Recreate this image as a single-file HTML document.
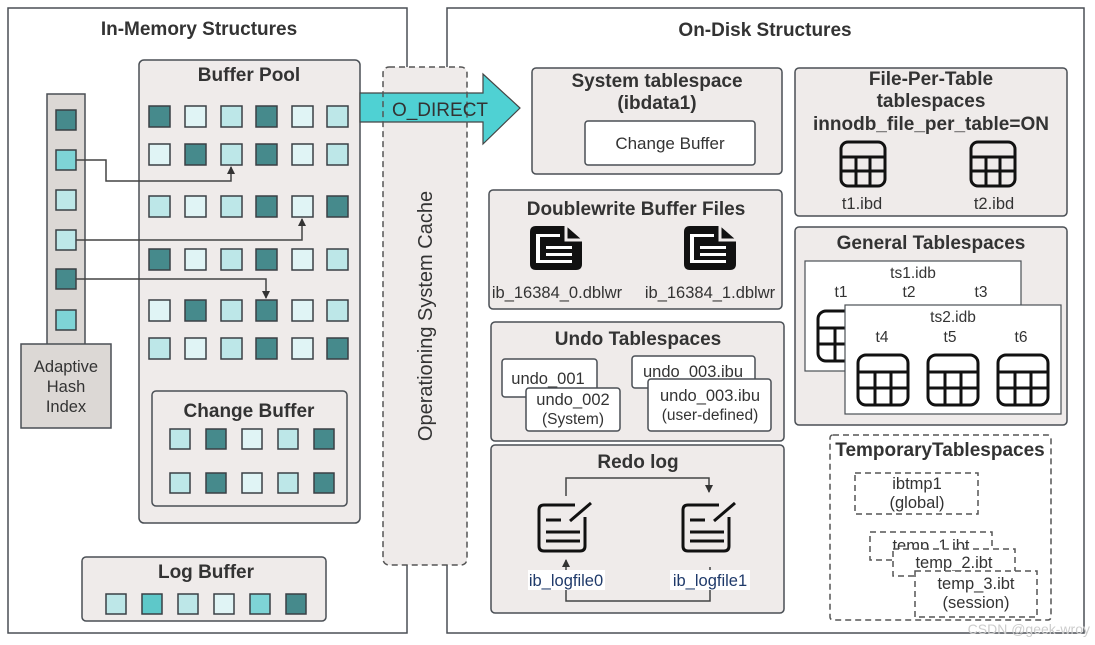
<!DOCTYPE html>
<html><head><meta charset="utf-8"><style>
html,body{margin:0;padding:0;background:#fff}
svg{display:block}
text{font-family:"Liberation Sans","DejaVu Sans",sans-serif;fill:#333}
.t{font-weight:bold;font-size:19px;text-anchor:middle}
.n{font-size:15.5px;text-anchor:middle}
.bx{fill:#efebea;stroke:#4a4f55;stroke-width:1.5}
.wb{fill:#fff;stroke:#4a4f55;stroke-width:1.5}
.D{fill:#468a8c;stroke:#3a4045;stroke-width:1.5}
.M{fill:#7ed4d6;stroke:#3a4045;stroke-width:1.5}
.L{fill:#bde7e8;stroke:#3a4045;stroke-width:1.5}
.V{fill:#e0f4f5;stroke:#3a4045;stroke-width:1.5}
.ln{fill:none;stroke:#444;stroke-width:1.5}
.ic{fill:none;stroke:#111;stroke-width:3}
.ds{fill:none;stroke:#555;stroke-width:1.5;stroke-dasharray:6,4}
</style></head><body>
<svg width="1095" height="645" viewBox="0 0 1095 645" xmlns="http://www.w3.org/2000/svg">
<defs>
<marker id="ar" markerWidth="8" markerHeight="8" refX="7" refY="4" orient="auto" markerUnits="userSpaceOnUse"><path d="M0,0 L8,4 L0,8 z" fill="#333"/></marker>
<g id="tbl"><rect x="0" y="0" width="44" height="44" rx="7" class="ic"/><line x1="0" y1="15" x2="44" y2="15" class="ic"/><line x1="0" y1="29" x2="44" y2="29" class="ic"/><line x1="15" y1="15" x2="15" y2="44" class="ic"/><line x1="29" y1="15" x2="29" y2="44" class="ic"/></g>
<g id="tbl2"><rect x="0" y="0" width="50" height="50" rx="8" class="ic"/><line x1="0" y1="17" x2="50" y2="17" class="ic"/><line x1="0" y1="33" x2="50" y2="33" class="ic"/><line x1="17" y1="17" x2="17" y2="50" class="ic"/><line x1="33" y1="17" x2="33" y2="50" class="ic"/></g>
<g id="doc"><path d="M6,0 H36 L52,14 V38 Q52,44 46,44 H6 Q0,44 0,38 V6 Q0,0 6,0 Z" fill="#111"/><path d="M36,0 V14 H52" fill="none" stroke="#efebea" stroke-width="3"/><rect x="6" y="8" width="24" height="3" fill="#fff"/><rect x="6" y="8" width="4" height="28" fill="#fff"/><rect x="16" y="20" width="26" height="3" fill="#fff"/><rect x="16" y="27" width="26" height="3" fill="#fff"/><rect x="6" y="34" width="36" height="3" fill="#fff"/></g>
<g id="note"><path d="M38,2 H7 Q2,2 2,7 V43 Q2,48 7,48 H43 Q48,48 48,43 V14" class="ic"/><line x1="33" y1="18" x2="54" y2="0" class="ic"/><line x1="9" y1="17" x2="24" y2="17" class="ic"/><line x1="9" y1="29" x2="43" y2="29" class="ic"/><line x1="9" y1="38" x2="43" y2="38" class="ic"/></g>
</defs>

<rect x="8" y="8" width="399" height="625" fill="#fff" stroke="#4a4f55" stroke-width="1.5"/>
<text x="199" y="35" class="t">In-Memory Structures</text>
<rect x="447" y="8" width="637" height="625" fill="#fff" stroke="#4a4f55" stroke-width="1.5"/>
<text x="765" y="36" class="t">On-Disk Structures</text>

<rect x="139" y="60" width="221" height="463" rx="5" class="bx"/>
<text x="249" y="81" class="t">Buffer Pool</text>
<g>
<rect x="149" y="106" width="21" height="21" class="D"/><rect x="185" y="106" width="21" height="21" class="V"/><rect x="221" y="106" width="21" height="21" class="L"/><rect x="256" y="106" width="21" height="21" class="D"/><rect x="292" y="106" width="21" height="21" class="V"/><rect x="327" y="106" width="21" height="21" class="L"/>
<rect x="149" y="144" width="21" height="21" class="V"/><rect x="185" y="144" width="21" height="21" class="D"/><rect x="221" y="144" width="21" height="21" class="L"/><rect x="256" y="144" width="21" height="21" class="D"/><rect x="292" y="144" width="21" height="21" class="V"/><rect x="327" y="144" width="21" height="21" class="L"/>
<rect x="149" y="196" width="21" height="21" class="L"/><rect x="185" y="196" width="21" height="21" class="V"/><rect x="221" y="196" width="21" height="21" class="L"/><rect x="256" y="196" width="21" height="21" class="D"/><rect x="292" y="196" width="21" height="21" class="V"/><rect x="327" y="196" width="21" height="21" class="D"/>
<rect x="149" y="249" width="21" height="21" class="D"/><rect x="185" y="249" width="21" height="21" class="V"/><rect x="221" y="249" width="21" height="21" class="L"/><rect x="256" y="249" width="21" height="21" class="D"/><rect x="292" y="249" width="21" height="21" class="V"/><rect x="327" y="249" width="21" height="21" class="L"/>
<rect x="149" y="300" width="21" height="21" class="V"/><rect x="185" y="300" width="21" height="21" class="D"/><rect x="221" y="300" width="21" height="21" class="L"/><rect x="256" y="300" width="21" height="21" class="D"/><rect x="292" y="300" width="21" height="21" class="V"/><rect x="327" y="300" width="21" height="21" class="L"/>
<rect x="149" y="338" width="21" height="21" class="L"/><rect x="185" y="338" width="21" height="21" class="V"/><rect x="221" y="338" width="21" height="21" class="L"/><rect x="256" y="338" width="21" height="21" class="D"/><rect x="292" y="338" width="21" height="21" class="V"/><rect x="327" y="338" width="21" height="21" class="D"/>
</g>
<rect x="152" y="391" width="195" height="115" rx="4" class="bx"/>
<text x="249" y="417" class="t">Change Buffer</text>
<rect x="170" y="429" width="20" height="20" class="L"/><rect x="206" y="429" width="20" height="20" class="D"/><rect x="242" y="429" width="20" height="20" class="V"/><rect x="278" y="429" width="20" height="20" class="L"/><rect x="314" y="429" width="20" height="20" class="D"/>
<rect x="170" y="473" width="20" height="20" class="L"/><rect x="206" y="473" width="20" height="20" class="D"/><rect x="242" y="473" width="20" height="20" class="V"/><rect x="278" y="473" width="20" height="20" class="L"/><rect x="314" y="473" width="20" height="20" class="D"/>

<rect x="47" y="94" width="38" height="252" fill="#dcd8d5" stroke="#4a4f55" stroke-width="1.5"/>
<rect x="56" y="110" width="20" height="20" class="D"/>
<rect x="56" y="150" width="20" height="20" class="M"/>
<rect x="56" y="190" width="20" height="20" class="L"/>
<rect x="56" y="230" width="20" height="20" class="L"/>
<rect x="56" y="269" width="20" height="20" class="D"/>
<rect x="56" y="310" width="20" height="20" class="M"/>
<rect x="21" y="344" width="90" height="84" fill="#dcd8d5" stroke="#4a4f55" stroke-width="1.5"/>
<text x="66" y="372" class="n" style="font-size:16.5px">Adaptive</text>
<text x="66" y="392" class="n" style="font-size:16.5px">Hash</text>
<text x="66" y="412" class="n" style="font-size:16.5px">Index</text>
<path d="M76,160 H106 V181 H231 V167" class="ln" marker-end="url(#ar)"/>
<path d="M76,240 H302 V219" class="ln" marker-end="url(#ar)"/>
<path d="M76,279 H266 V298" class="ln" marker-end="url(#ar)"/>

<rect x="82" y="557" width="244" height="64" rx="4" class="bx"/>
<text x="206" y="578" class="t">Log Buffer</text>
<rect x="106" y="594" width="20" height="20" class="L"/><rect x="142" y="594" width="20" height="20" fill="#5ec8c9" stroke="#3a4045" stroke-width="1.5"/><rect x="178" y="594" width="20" height="20" class="L"/><rect x="214" y="594" width="20" height="20" class="V"/><rect x="250" y="594" width="20" height="20" class="M"/><rect x="286" y="594" width="20" height="20" class="D"/>

<rect x="383" y="67" width="84" height="498" rx="6" fill="#efebea"/>
<path d="M360,93 H483 V74 L520,108 L483,144 V122 H360 Z" fill="#4fd1d3" stroke="#444" stroke-width="1.2"/>
<rect x="383" y="67" width="84" height="498" rx="6" class="ds"/>
<text x="440" y="116" class="n" style="font-size:19px">O_DIRECT</text>
<text transform="translate(432,316) rotate(-90)" class="n" style="font-size:20px">Operationing System Cache</text>

<rect x="532" y="68" width="250" height="106" rx="4" class="bx"/>
<text x="657" y="87" class="t">System tablespace</text>
<text x="657" y="109" class="t">(ibdata1)</text>
<rect x="585" y="121" width="170" height="44" rx="3" class="wb"/>
<text x="670" y="149" class="n" style="font-size:17px">Change Buffer</text>

<rect x="489" y="190" width="293" height="119" rx="4" class="bx"/>
<text x="636" y="215" class="t">Doublewrite Buffer Files</text>
<use href="#doc" x="530" y="226"/>
<use href="#doc" x="684" y="226"/>
<text x="557" y="298" class="n" style="font-size:16.5px">ib_16384_0.dblwr</text>
<text x="710" y="298" class="n" style="font-size:16.5px">ib_16384_1.dblwr</text>

<rect x="491" y="322" width="293" height="119" rx="4" class="bx"/>
<text x="638" y="345" class="t">Undo Tablespaces</text>
<rect x="502" y="359" width="95" height="38" rx="3" class="wb"/>
<text x="548" y="384" class="n" style="font-size:16.5px">undo_001</text>
<rect x="526" y="388" width="94" height="43" rx="3" class="wb"/>
<text x="573" y="405" class="n" style="font-size:16.5px">undo_002</text>
<text x="573" y="424" class="n" style="font-size:15.5px">(System)</text>
<rect x="632" y="356" width="123" height="32" rx="3" class="wb"/>
<text x="693" y="377" class="n" style="font-size:16.5px">undo_003.ibu</text>
<rect x="648" y="379" width="123" height="52" rx="3" class="wb"/>
<text x="710" y="401" class="n" style="font-size:16.5px">undo_003.ibu</text>
<text x="710" y="420" class="n" style="font-size:15.5px">(user-defined)</text>

<rect x="491" y="445" width="293" height="168" rx="4" class="bx"/>
<text x="638" y="468" class="t">Redo log</text>
<path d="M566,496 V478 H709 V492" class="ln" marker-end="url(#ar)"/>
<path d="M710,567 V601 H566 V560" class="ln" marker-end="url(#ar)"/>
<use href="#note" x="537" y="503"/>
<use href="#note" x="681" y="503"/>
<rect x="528" y="570" width="77" height="20" fill="#fff"/>
<rect x="670" y="570" width="80" height="20" fill="#fff"/>
<text x="566" y="586" class="n" style="font-size:16.5px;fill:#1f3a6a">ib_logfile0</text>
<text x="710" y="586" class="n" style="font-size:16.5px;fill:#1f3a6a">ib_logfile1</text>

<rect x="795" y="68" width="272" height="148" rx="4" class="bx"/>
<text x="931" y="85" class="t">File-Per-Table</text>
<text x="931" y="107" class="t">tablespaces</text>
<text x="931" y="130" class="t">innodb_file_per_table=ON</text>
<use href="#tbl" x="841" y="142"/>
<use href="#tbl" x="971" y="142"/>
<text x="862" y="209" class="n" style="font-size:16.5px">t1.ibd</text>
<text x="994" y="209" class="n" style="font-size:16.5px">t2.ibd</text>

<rect x="795" y="227" width="272" height="198" rx="4" class="bx"/>
<text x="931" y="249" class="t">General Tablespaces</text>
<rect x="805" y="261" width="216" height="110" class="wb" style="stroke-width:1.2"/>
<text x="913" y="278" class="n">ts1.idb</text>
<text x="841" y="297" class="n">t1</text><text x="909" y="297" class="n">t2</text><text x="981" y="297" class="n">t3</text>
<use href="#tbl2" x="818" y="311"/>
<rect x="845" y="305" width="216" height="109" class="wb" style="stroke-width:1.2"/>
<text x="953" y="322" class="n">ts2.idb</text>
<text x="882" y="342" class="n">t4</text><text x="950" y="342" class="n">t5</text><text x="1021" y="342" class="n">t6</text>
<use href="#tbl2" x="858" y="355"/>
<use href="#tbl2" x="928" y="355"/>
<use href="#tbl2" x="998" y="355"/>

<rect x="830" y="435" width="221" height="185" rx="3" class="ds"/>
<text x="940" y="456" class="t">TemporaryTablespaces</text>
<rect x="855" y="473" width="123" height="41" class="ds"/>
<text x="917" y="489" class="n" style="font-size:16.5px">ibtmp1</text>
<text x="917" y="508" class="n" style="font-size:16.5px">(global)</text>
<rect x="870" y="532" width="122" height="28" class="ds"/>
<text x="931" y="551" class="n" style="font-size:16.5px">temp_1.ibt</text>
<rect x="893" y="549" width="122" height="27" fill="#fff"/>
<rect x="893" y="549" width="122" height="27" class="ds"/>
<text x="954" y="568" class="n" style="font-size:16.5px">temp_2.ibt</text>
<rect x="915" y="571" width="122" height="46" fill="#fff"/>
<rect x="915" y="571" width="122" height="46" class="ds"/>
<text x="976" y="589" class="n" style="font-size:16.5px">temp_3.ibt</text>
<text x="976" y="608" class="n" style="font-size:16.5px">(session)</text>
<text x="1090" y="634" style="font-size:14px;fill:#ccc;text-anchor:end">CSDN @geek-wroy</text>
</svg>
</body></html>
